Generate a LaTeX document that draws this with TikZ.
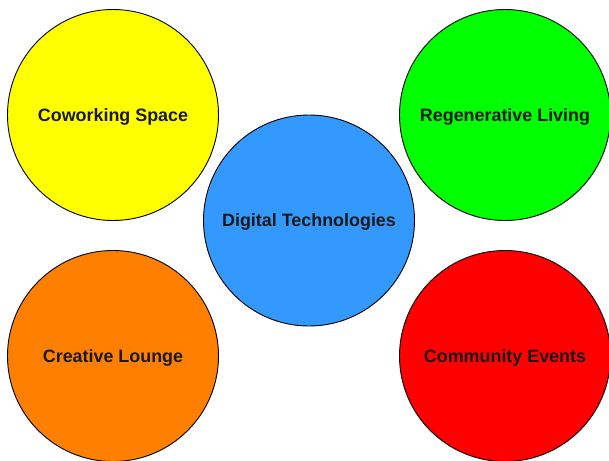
\documentclass[tikz,border=0pt]{standalone}
\usepackage{fontspec}
\setmainfont{Liberation Sans}
\begin{document}
\begin{tikzpicture}[x=1pt,y=-1pt,
  bubble/.style={circle,draw=black,line width=0.9pt,minimum size=211pt,inner sep=0pt,
    text height=12.4pt,text depth=0pt,
    font=\fontsize{17.9}{20}\selectfont\bfseries,text=black!90}]
  \useasboundingbox (0,0) rectangle (609,460);
  \definecolor{cyellow}{HTML}{FFFF00}
  \definecolor{cgreen}{HTML}{00FF00}
  \definecolor{cblue}{HTML}{3399FF}
  \definecolor{corange}{HTML}{FF8000}
  \definecolor{cred}{HTML}{FF0000}
  \node[bubble,fill=cyellow] (cowork) at (113,115) {Coworking Space};
  \node[bubble,fill=cgreen] (regen) at (505,115) {Regenerative Living};
  \node[bubble,fill=cblue] (digital) at (309,220.5) {Digital Technologies};
  \node[bubble,fill=corange] (lounge) at (113,356) {Creative Lounge};
  \node[bubble,fill=cred] (events) at (505,356) {Community Events};
\end{tikzpicture}
\end{document}
